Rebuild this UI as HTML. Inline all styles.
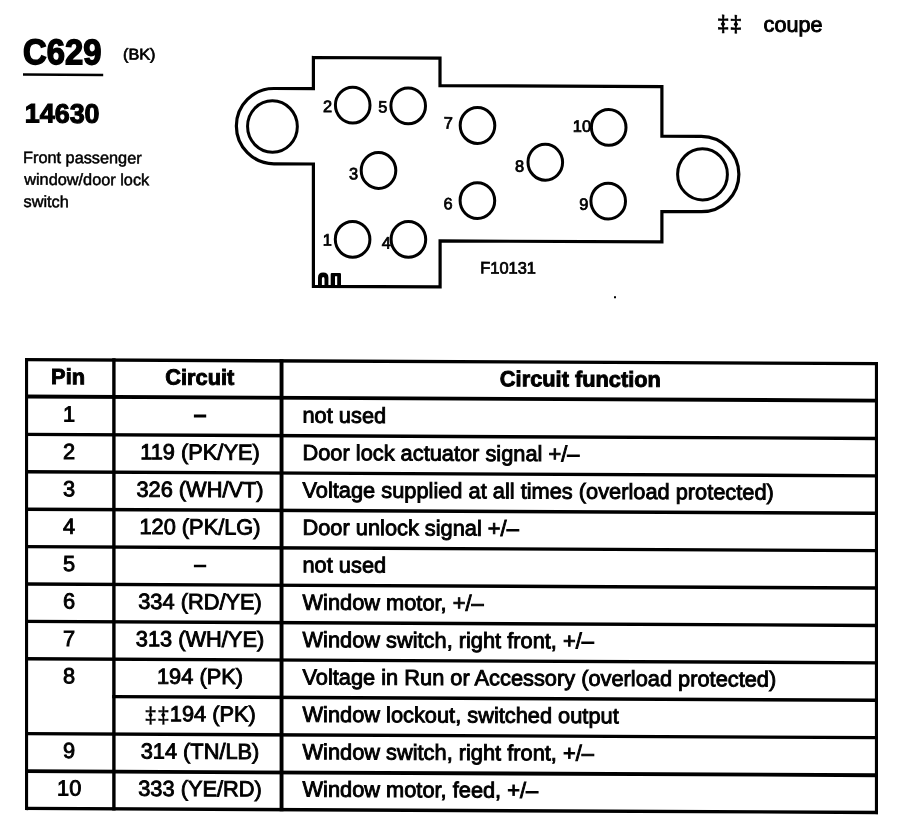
<!DOCTYPE html>
<html><head><meta charset="utf-8"><title>C629</title>
<style>
html,body{margin:0;padding:0;background:#fff;}
body{width:898px;height:832px;overflow:hidden;}
svg{display:block;will-change:transform;}
text{font-family:"Liberation Sans",sans-serif;fill:#000;stroke:#000;stroke-width:0.5px;}
.t text{font-size:21.8px;stroke-width:0.9px;}
.b{font-weight:bold;}
.l text{font-size:16.4px;stroke-width:0.75px;}
</style></head>
<body>
<svg width="898" height="832" viewBox="0 0 898 832">
<rect x="0" y="0" width="898" height="832" fill="#fff"/>
<g transform="skewY(0.27)">
<g fill="#000" stroke="none">
<rect x="25.00" y="357.80" width="852.90" height="3.4"/>
<rect x="25.00" y="394.50" width="852.90" height="3.9"/>
<rect x="25.00" y="432.60" width="852.90" height="3.4"/>
<rect x="25.00" y="470.00" width="852.90" height="3.4"/>
<rect x="25.00" y="507.40" width="852.90" height="3.4"/>
<rect x="25.00" y="544.80" width="852.90" height="3.4"/>
<rect x="25.00" y="582.20" width="852.90" height="3.4"/>
<rect x="25.00" y="619.60" width="852.90" height="3.4"/>
<rect x="25.00" y="657.00" width="852.90" height="3.4"/>
<rect x="112.20" y="694.40" width="765.70" height="3.4"/>
<rect x="25.00" y="731.80" width="852.90" height="3.4"/>
<rect x="25.00" y="769.20" width="852.90" height="3.8"/>
<rect x="25.00" y="806.60" width="852.90" height="3.4"/>
<rect x="25.00" y="357.80" width="3.1" height="452.20"/>
<rect x="112.20" y="357.80" width="3.4" height="452.20"/>
<rect x="279.60" y="357.80" width="3.9" height="452.20"/>
<rect x="874.90" y="357.80" width="3.1" height="452.20"/>
</g>
<g class="t">
<text class="b" x="68.1" y="383.8" text-anchor="middle">Pin</text>
<text class="b" x="199.8" y="383.8" text-anchor="middle">Circuit</text>
<text class="b" x="580.4" y="383.8" text-anchor="middle">Circuit function</text>
<text x="69.2" y="421.20" text-anchor="middle">1</text>
<rect x="193.9" y="413.60" width="12.3" height="3.0" fill="#000"/>
<text x="302.5" y="421.20">not used</text>
<text x="69.2" y="458.60" text-anchor="middle">2</text>
<text x="200" y="458.60" text-anchor="middle">119 (PK/YE)</text>
<text x="302.5" y="458.60">Door lock actuator signal +/–</text>
<text x="69.2" y="496.00" text-anchor="middle">3</text>
<text x="200" y="496.00" text-anchor="middle">326 (WH/VT)</text>
<text x="302.5" y="496.00">Voltage supplied at all times (overload protected)</text>
<text x="69.2" y="533.40" text-anchor="middle">4</text>
<text x="200" y="533.40" text-anchor="middle">120 (PK/LG)</text>
<text x="302.5" y="533.40">Door unlock signal +/–</text>
<text x="69.2" y="570.80" text-anchor="middle">5</text>
<rect x="193.9" y="563.90" width="12.3" height="2.5" fill="#000"/>
<text x="302.5" y="570.80">not used</text>
<text x="69.2" y="608.20" text-anchor="middle">6</text>
<text x="200" y="608.20" text-anchor="middle">334 (RD/YE)</text>
<text x="302.5" y="608.20">Window motor, +/–</text>
<text x="69.2" y="645.60" text-anchor="middle">7</text>
<text x="200" y="645.60" text-anchor="middle">313 (WH/YE)</text>
<text x="302.5" y="645.60">Window switch, right front, +/–</text>
<text x="69.2" y="683.00" text-anchor="middle">8</text>
<text x="200" y="683.00" text-anchor="middle">194 (PK)</text>
<text x="302.5" y="683.00">Voltage in Run or Accessory (overload protected)</text>
<text x="200" y="720.40" text-anchor="middle"><tspan font-size="23" dy="1.8" style="stroke-width:0.2px">‡‡</tspan><tspan dy="-1.8">194 (PK)</tspan></text>
<text x="302.5" y="720.40">Window lockout, switched output</text>
<text x="69.2" y="757.80" text-anchor="middle">9</text>
<text x="200" y="757.80" text-anchor="middle">314 (TN/LB)</text>
<text x="302.5" y="757.80">Window switch, right front, +/–</text>
<text x="69.2" y="795.20" text-anchor="middle">10</text>
<text x="200" y="795.20" text-anchor="middle">333 (YE/RD)</text>
<text x="302.5" y="795.20">Window motor, feed, +/–</text>
</g>
<g fill="none" stroke="#000" stroke-width="3.2" stroke-linejoin="miter">
<path d="M313.4,56 H440 V83.5 H661.9 V133.1 H701.25 A37.65,37.65 0 0 1 701.25,208.4 H661.9 V238.85 H440.1 V284.85 H313.4 V162.5 H274 A37.65,37.65 0 0 1 274,87.2 H313.4 Z"/>
<ellipse cx="352.7" cy="103.5" rx="17.3" ry="17.9" stroke-width="3"/>
<ellipse cx="408.2" cy="104.0" rx="17.3" ry="17.9" stroke-width="3"/>
<ellipse cx="378.5" cy="168.7" rx="17.3" ry="17.9" stroke-width="3"/>
<ellipse cx="352.6" cy="237.7" rx="17.3" ry="17.9" stroke-width="3"/>
<ellipse cx="408.4" cy="237.5" rx="17.3" ry="17.9" stroke-width="3"/>
<ellipse cx="477.5" cy="123.25" rx="17.3" ry="17.9" stroke-width="3"/>
<ellipse cx="477.4" cy="198.35" rx="17.3" ry="17.9" stroke-width="3"/>
<ellipse cx="545.3" cy="159.7" rx="17.3" ry="17.9" stroke-width="3"/>
<ellipse cx="608.7" cy="124.5" rx="17.3" ry="17.9" stroke-width="3"/>
<ellipse cx="608.2" cy="198.2" rx="17.3" ry="17.9" stroke-width="3"/>
<ellipse cx="272.45" cy="125.2" rx="24.9" ry="25.75" stroke-width="3"/>
<ellipse cx="702.5" cy="171.0" rx="24.9" ry="25.6" stroke-width="3"/>
</g>
<g fill="#000">
<path d="M318,284.5 V276 Q318,271.1 323.2,271.1 Q328.4,271.1 328.4,276 V284.5 H324.5 V277.4 Q324.5,275.4 323.2,275.4 Q321.9,275.4 321.9,277.4 V284.5 Z"/>
<path d="M330.7,284.5 V272.6 Q330.7,271.5 331.8,271.5 H339.9 Q341,271.5 341,272.6 V284.5 H337.2 V274.6 H335.0 V284.5 Z"/>
</g>
<g class="l">
<text x="322.9" y="110.4">2</text>
<text x="378.3" y="110.7">5</text>
<text x="349.0" y="177.7">3</text>
<text x="322.8" y="243.9">1</text>
<text x="381.8" y="246.7">4</text>
<text x="443.8" y="126.4">7</text>
<text x="443.6" y="207.2">6</text>
<text x="515.0" y="169.35">8</text>
<text x="572.8" y="129.0">10</text>
<text x="579.3" y="207.0">9</text>
<text x="480.3" y="271.1">F10131</text>
</g>
<text class="b" x="23.0" y="63.9" font-size="35.6" textLength="78.4" lengthAdjust="spacingAndGlyphs" style="stroke-width:1.5px">C629</text>
<rect x="23" y="73.2" width="80.2" height="2.5"/>
<text x="123.0" y="58.9" font-size="15.6" textLength="32.4" lengthAdjust="spacingAndGlyphs" style="stroke-width:0.7px">(BK)</text>
<text class="b" x="24.8" y="122.4" font-size="26.9" style="stroke-width:1.1px">14630</text>
<g font-size="16.3" style="stroke-width:0.8px">
<text x="23" y="162.8">Front passenger</text>
<text x="24.2" y="184.7">window/door lock</text>
<text x="23.5" y="206.9">switch</text>
</g>
<text x="716.8" y="28.2" font-size="23">‡‡</text>
<text x="763.6" y="28.0" font-size="21.6" style="stroke-width:0.9px">coupe</text>
<path d="M720.7,20.7 L723.0,17.3 L725.3,20.7 L723.0,24.099999999999998 Z"/>
<path d="M733.6,20.7 L735.9,17.3 L738.1999999999999,20.7 L735.9,24.099999999999998 Z"/>
<path d="M148.4,714.3 L150.5,711.3 L152.6,714.3 L150.5,717.3 Z"/>
<path d="M161.1,714.3 L163.2,711.3 L165.29999999999998,714.3 L163.2,717.3 Z"/>
<rect x="614" y="293.3" width="2" height="2"/>
</g>
</svg>
</body></html>
